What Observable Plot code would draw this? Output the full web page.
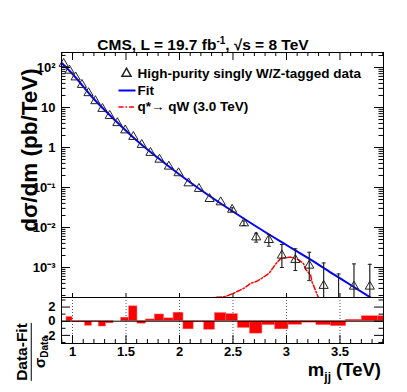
<!DOCTYPE html>
<html><head><meta charset="utf-8">
<script src="https://cdn.jsdelivr.net/npm/d3@7"></script>
<script src="https://cdn.jsdelivr.net/npm/@observablehq/plot@0.6"></script>
<style>
body{margin:0;background:#fff;}
#wrap{position:relative;width:407px;height:392px;overflow:hidden;font-family:"Liberation Sans",Arial,sans-serif;font-weight:bold;color:#000;}
#wrap svg{position:absolute;left:0;}
.lbl{position:absolute;white-space:nowrap;line-height:1;}
</style></head><body><div id="wrap"></div>
<script>
// ---------------- data ----------------
const binLow  = [0.890,0.944,1.000,1.058,1.118,1.181,1.246,1.313,1.383,1.455,1.530,1.607,1.687,1.770,1.856,1.945,2.037,2.132,2.231,2.332,2.438,2.546,2.659,2.775,2.895,3.019,3.147,3.279,3.416,3.558,3.704,3.854];
const binHigh = [0.944,1.000,1.058,1.118,1.181,1.246,1.313,1.383,1.455,1.530,1.607,1.687,1.770,1.856,1.945,2.037,2.132,2.231,2.332,2.438,2.546,2.659,2.775,2.895,3.019,3.147,3.279,3.416,3.558,3.704,3.854,4.010];
const dataVal = [124,84,57,37,23,14.5,9.3,6.2,4.1,2.7,1.85,1.17,0.74,0.5,0.335,0.229,0.128,0.093,0.052,0.043,0.028,0.0128,0.0057,0.0049,0.0020,0.00156,0.00112,0.00035,null,0.000335,0.000335,null];
const errLow  = [null,null,null,null,null,null,null,null,null,null,null,null,null,null,null,null,null,null,null,null,0.025,0.0112,0.0043,0.0034,0.0010,0.00084,0.00047,1e-6,1e-6,1e-6,1e-6,null];
const errHigh = [null,null,null,null,null,null,null,null,null,null,null,null,null,null,null,null,null,null,null,null,0.031,0.0146,0.0072,0.0067,0.00376,0.00293,0.0024,0.0013,0.00069,0.00123,0.0012,null];
const pull    = [0,0.6,-0.15,-0.15,-0.65,-0.05,-0.75,-0.3,0,0.5,2.1,-0.35,0.25,0.95,0.4,1.2,-1.15,-0.1,-1.2,1.15,1.0,-0.95,-1.75,-0.55,-1.15,-0.5,-0.2,-0.55,-0.7,0.2,0.7,0.7];

const fitM = [0.89,1.0,1.2,1.4,1.6,1.8,2.0,2.2,2.4,2.6,2.8,3.0,3.2,3.4,3.6,3.8];
const fitV = [137,68.8,16.3,4.73,1.5,0.546,0.211,0.0866,0.0376,0.0168,0.00772,0.00365,0.00173,0.00079,0.000365,0.000168];

const sigM = [2.25,2.43,2.51,2.60,2.664,2.73,2.80,2.84,2.90,2.944,2.98,3.04,3.115,3.16,3.18,3.225,3.24,3.30];
const sigV = [1.7e-4,1.88e-4,2.3e-4,3.0e-4,4.0e-4,4.6e-4,6.1e-4,7.3e-4,1.23e-3,1.65e-3,1.76e-3,1.82e-3,1.55e-3,1.24e-3,8.9e-4,6.5e-4,4.3e-4,1.73e-4];

const xTickVals = [1,1.5,2,2.5,3,3.5];
const xTickLabels = ["1","1.5","2","2.5","3","3.5"];
const yTickVals = [1e-3,1e-2,1e-1,1,10,100];
const yTickLabels = ["10\u207B\u00B3","10\u207B\u00B2","10\u207B\u00B9","1","10","10\u00B2"];
const pullTickVals = [-2,0,2];
const pullTickLabels = ["-2","0","2"];

const titleText = "CMS, L = 19.7 fb";
const legendLabels = ["High-purity singly W/Z-tagged data","Fit","q*\u2192 qW (3.0 TeV)"];

// ---------------- tables ----------------
const bins = binLow.map((lo,i)=>({lo, hi:binHigh[i], m:(lo+binHigh[i])/2, v:dataVal[i], eLo:errLow[i], eHi:errHigh[i], p:pull[i]}));
const pts = bins.filter(d=>d.v!=null && d.m<3.9);
const errs = bins.filter(d=>d.eHi!=null);
const fit = fitM.map((m,i)=>({m, v:fitV[i]}));
const sig = sigM.map((m,i)=>({m, v:sigV[i]}));

const xMinor = d3.range(9,40).map(k=>k/10).filter(v=>!xTickVals.some(t=>Math.abs(t-v)<1e-9));
const yMinor = [];
for (let e=-4;e<=2;e++) for (let k=2;k<=9;k++){const v=k*Math.pow(10,e); if(v>1.78e-4 && v<237) yMinor.push(v);}
const pullMinor = [-3,-1,1,3];

const FONT = '"Liberation Sans", Arial, sans-serif';
const xDomain = [0.897, 3.907];
const PW = 407-61-24;
const MH = 245;
const lblMap = new Map(yTickVals.map((v,i)=>[v,yTickLabels[i]]));
const xLblMap = new Map(xTickVals.map((v,i)=>[v,xTickLabels[i]]));
const pLblMap = new Map(pullTickVals.map((v,i)=>[v,pullTickLabels[i]]));

const legendLine = {draw(ctx){ctx.moveTo(-8.5,0); ctx.lineTo(8.5,0);}};
const capSym = {draw(ctx){ctx.moveTo(-2,0); ctx.lineTo(2,0);}};

const main = Plot.plot({
  width:407, height:298, marginTop:52, marginBottom:1, marginLeft:61, marginRight:24,
  style:{fontFamily:FONT, fontWeight:"bold", background:"transparent", color:"#000", overflow:"visible"},
  x:{domain:xDomain, axis:null},
  y:{type:"log", domain:[1.778e-4, 237], axis:null},
  marks:[
    Plot.line(sig, {x:"m", y:"v", stroke:"#ff0000", strokeWidth:1.5, strokeDasharray:"5,2,1.5,2", clip:true}),
    Plot.line(fit, {x:"m", y:"v", stroke:"#0000ff", strokeWidth:2, curve:"monotone-x", clip:true}),
    Plot.ruleX(errs, {x:"m", y1:"eLo", y2:"eHi", stroke:"#222", strokeWidth:1.2, clip:true}),
    Plot.dot(errs, {x:"m", y:"eHi", symbol:capSym, r:2, stroke:"#222", strokeWidth:1, fill:"none"}),
    Plot.dot(errs.filter(d=>d.eLo>1e-4), {x:"m", y:"eLo", symbol:capSym, r:2, stroke:"#222", strokeWidth:1, fill:"none"}),
    Plot.dot(pts, {x:"m", y:"v", symbol:"triangle", r:3.4, stroke:"#222", strokeWidth:1, fill:"none"}),
    // inward ticks
    Plot.tickY(yTickVals, {y:d=>d, insetRight:PW-9, stroke:"#000"}),
    Plot.tickY(yMinor, {y:d=>d, insetRight:PW-4.5, stroke:"#000"}),
    Plot.tickY(yTickVals, {y:d=>d, insetLeft:PW-9, stroke:"#000"}),
    Plot.tickY(yMinor, {y:d=>d, insetLeft:PW-4.5, stroke:"#000"}),
    Plot.tickX(xTickVals, {x:d=>d, insetBottom:MH-8, stroke:"#000"}),
    Plot.tickX(xMinor, {x:d=>d, insetBottom:MH-4, stroke:"#000"}),
    Plot.tickX(xTickVals, {x:d=>d, insetTop:MH-4, stroke:"#000"}),
    Plot.frame({stroke:"#000", strokeWidth:1}),
    Plot.axisY({ticks:yTickVals, tickFormat:d=>lblMap.get(d), tickSize:0, tickPadding:6, fontSize:13, fontWeight:"bold", label:null}),
    // legend
    Plot.dot([0], {frameAnchor:"top-left", dx:65, dy:21, symbol:"triangle", r:3.4, stroke:"#222", fill:"none"}),
    Plot.dot([0], {frameAnchor:"top-left", dx:65.5, dy:38, symbol:legendLine, r:5, stroke:"#0000ff", strokeWidth:2, fill:"none"}),
    Plot.dot([0], {frameAnchor:"top-left", dx:65.5, dy:54.5, symbol:legendLine, r:5, stroke:"#ff0000", strokeWidth:1.5, strokeDasharray:"5,2,1.5,2", fill:"none"}),
    Plot.text([legendLabels[0]], {frameAnchor:"top-left", dx:76, dy:21, text:d=>d, textAnchor:"start", lineAnchor:"middle", fontSize:13.5, fontWeight:"bold", fill:"#000"}),
    Plot.text([legendLabels[1]], {frameAnchor:"top-left", dx:76, dy:38, text:d=>d, textAnchor:"start", lineAnchor:"middle", fontSize:13.5, fontWeight:"bold", fill:"#000"}),
    Plot.text([legendLabels[2]], {frameAnchor:"top-left", dx:76, dy:54.5, text:d=>d, textAnchor:"start", lineAnchor:"middle", fontSize:13.5, fontWeight:"bold", fill:"#000"})
  ]
});
main.style.top = "0px";

const LH = 46;
const lower = Plot.plot({
  width:407, height:100, marginTop:5, marginBottom:49, marginLeft:61, marginRight:24,
  style:{fontFamily:FONT, fontWeight:"bold", background:"transparent", color:"#000", overflow:"visible"},
  x:{domain:xDomain, axis:null},
  y:{domain:[-3.15, 3.35], axis:null},
  marks:[
    Plot.rect(bins, {x1:"lo", x2:"hi", y1:0, y2:"p", fill:"#ff0000", stroke:"#ff6666", strokeWidth:0.5, clip:true}),
    Plot.ruleX(xTickVals, {x:d=>d, stroke:"#555", strokeDasharray:"1,2", strokeWidth:1}),
    Plot.ruleY([0], {stroke:"#000", strokeWidth:1}),
    Plot.tickY(pullTickVals, {y:d=>d, insetRight:PW-9, stroke:"#000"}),
    Plot.tickY(pullMinor, {y:d=>d, insetRight:PW-4.5, stroke:"#000"}),
    Plot.tickY(pullTickVals, {y:d=>d, insetLeft:PW-9, stroke:"#000"}),
    Plot.tickY(pullMinor, {y:d=>d, insetLeft:PW-4.5, stroke:"#000"}),
    Plot.tickX(xTickVals, {x:d=>d, insetTop:LH-8, stroke:"#000"}),
    Plot.tickX(xMinor, {x:d=>d, insetTop:LH-4, stroke:"#000"}),
    Plot.frame({stroke:"#000", strokeWidth:1}),
    Plot.axisY({ticks:pullTickVals, tickFormat:d=>pLblMap.get(d), tickSize:0, tickPadding:6, fontSize:13, fontWeight:"bold", label:null}),
    Plot.axisX({ticks:xTickVals, tickFormat:d=>xLblMap.get(d), tickSize:0, tickPadding:3, fontSize:13, fontWeight:"bold", label:null})
  ]
});
lower.style.top = "292px";

const wrap = document.getElementById("wrap");
wrap.appendChild(main);
wrap.appendChild(lower);

function addLabel(html, css){
  const d = document.createElement("div");
  d.className = "lbl";
  d.innerHTML = html;
  Object.assign(d.style, css);
  wrap.appendChild(d);
  return d;
}
// title
addLabel(titleText + '<span style="font-size:10px;position:relative;top:-6px">-1</span>, <span style="font-size:15px">\u221A</span>s = 8 TeV',
  {left:"203px", top:"45px", fontSize:"15.5px", transform:"translate(-50%,-50%)"});
// y label
addLabel('d\u03C3/dm (pb/TeV)', {left:"30px", top:"150px", fontSize:"22.5px", transform:"translate(-50%,-50%) rotate(-90deg)"});
// x label
addLabel('m<span style="font-size:12px;position:relative;top:5px">jj</span> (TeV)', {left:"381px", top:"370px", fontSize:"18.5px", transform:"translate(-100%,-50%)"});
// pull label (fraction)
addLabel('<div style="display:inline-flex;flex-direction:column;align-items:center;line-height:1">' +
  '<span style="font-size:15.5px;padding-bottom:1px">Data-Fit</span>' +
  '<span style="border-top:1.5px solid #000;width:100%;text-align:center;font-size:15px;padding-top:0px">\u03C3<span style="font-size:10px;position:relative;top:3px">Data</span></span></div>',
  {left:"30px", top:"352px", transform:"translate(-50%,-50%) rotate(-90deg)"});
</script>
</body></html>
